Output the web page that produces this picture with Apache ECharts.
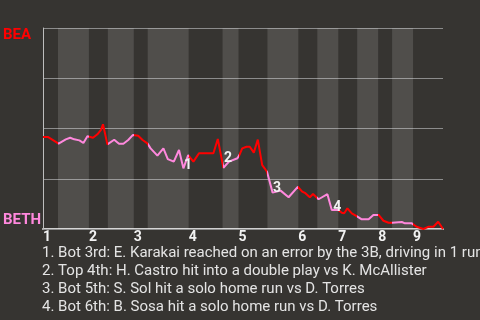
<!DOCTYPE html>
<html>
<head>
<meta charset="utf-8">
<script src="https://cdn.jsdelivr.net/npm/echarts@6/dist/echarts.min.js"></script>
<style>
html,body{margin:0;padding:0;background:#363431;}
#c{width:480px;height:320px;}
</style>
</head>
<body>
<div id="c"></div>
<script>
// Game progress (0-100) and BEA win probability (1 = BEA, 0 = BETH)
const progress = [0,1.2,3.9,5.7,6.8,7.8,9.1,10.1,11.1,11.3,12.5,13.6,14.5,15.0,16.1,17.8,19.0,20.1,21.3,22.5,
  23.8,24.9,26.1,26.9,28.6,30.1,31.2,32.7,34.0,35.1,36.3,37.6,39.0,42.6,43.7,45.1,46.5,48.6,49.1,49.8,
  50.9,51.7,52.7,53.7,54.8,55.4,56.0,57.4,59.4,61.4,63.7,64.8,65.6,66.7,67.5,68.9,71.1,72.2,73.8,74.7,
  75.3,76.1,77.2,78.3,79.7,81.4,82.6,83.9,85.1,86.4,87.3,89.7,90.5,92.2,93.4,95.1,96.3,97.6,98.8,100];
const winProb = [0.458,0.458,0.425,0.446,0.454,0.446,0.441,0.428,0.461,0.465,0.454,0.471,0.493,0.521,0.421,0.444,0.424,0.424,0.443,0.468,
  0.464,0.443,0.426,0.401,0.365,0.401,0.348,0.335,0.393,0.302,0.368,0.335,0.377,0.377,0.448,0.305,0.335,0.352,0.368,0.401,
  0.409,0.409,0.380,0.445,0.318,0.302,0.285,0.181,0.191,0.158,0.210,0.186,0.178,0.158,0.174,0.148,0.173,0.095,0.095,0.081,
  0.078,0.103,0.078,0.065,0.048,0.048,0.070,0.070,0.041,0.031,0.031,0.035,0.028,0.028,0.011,0,0.011,0.011,0.036,0];
const inningStart = [0,11.47,22.69,36.41,48.88,63.84,73.82,83.79,92.52];
const bottomStart = [3.74,16.21,26.18,44.89,56.11,68.58,78.55,87.28];
const inningLabels = ['1','2','3','4','5','6','7','8','9'];
const teamLabels = ['BEA','BETH'];
const eventIndex = [29,35,47,57];   // data index of annotated plays
const eventNames = ['1','2','3','4'];
const eventOffsets = [[0,-3],[0,-9],[0,-4],[1,-2]];
const eventTexts = [
  '1. Bot 3rd: E. Karakai reached on an error by the 3B, driving in 1 run',
  '2. Top 4th: H. Castro hit into a double play vs K. McAllister',
  '3. Bot 5th: S. Sol hit a solo home run vs D. Torres',
  '4. Bot 6th: B. Sosa hit a solo home run vs D. Torres'
];

const RED = '#ff0000', PINK = '#ff88dd';

const lineData = progress.map((x, i) => [x, winProb[i]]);
const marks = eventIndex.map((idx, k) => ({
  coord: [progress[idx], winProb[idx]],
  label: {
    show: true, formatter: eventNames[k], position: 'right', distance: 0,
    offset: eventOffsets[k], color: '#f2f2f2', fontSize: 14, fontWeight: 'bold',
    fontFamily: 'Roboto'
  }
}));

const bands = bottomStart.map((b, i) => [{xAxis: b}, {xAxis: inningStart[i + 1]}]);
const pieces = bottomStart.map((b, i) => ({gte: b, lt: inningStart[i + 1], color: PINK}));

const chart = echarts.init(document.getElementById('c'), null, {renderer: 'canvas'});
chart.setOption({
  backgroundColor: '#363431',
  animation: false,
  grid: {left: 42, top: 28, width: 401, height: 201},
  title: {
    text: eventTexts.join('\n'),
    left: 42, top: 244, padding: 0,
    textStyle: {color: '#e4e4e4', fontSize: 15, fontWeight: 'normal', lineHeight: 18, fontFamily: 'Roboto'}
  },
  xAxis: {
    type: 'value', min: 0, max: 100,
    axisLine: {show: true, lineStyle: {color: '#d0d0d0', width: 2}},
    axisTick: {show: false},
    splitLine: {show: false},
    axisLabel: {
      customValues: inningStart,
      formatter: (v) => inningLabels[inningStart.indexOf(v)] || '',
      align: 'left', margin: 1, color: '#f2f2f2', fontSize: 14, fontWeight: 'bold', fontFamily: 'Roboto'
    }
  },
  yAxis: {
    type: 'value', min: 0, max: 1, interval: 0.25, z: 1,
    axisLine: {show: true, lineStyle: {color: '#bdbdbd', width: 1}},
    axisTick: {show: false},
    splitLine: {show: true, lineStyle: {color: '#8c8c8c', width: 1}},
    axisLabel: {
      customValues: [0.043, 0.962],
      formatter: (v) => v > 0.5 ? '{a|' + teamLabels[0] + '}' : '{b|' + teamLabels[1] + '}',
      align: 'left', margin: 40,
      rich: {
        a: {color: RED, fontSize: 15, fontWeight: 'bold', fontFamily: 'Roboto'},
        b: {color: PINK, fontSize: 15, fontWeight: 'bold', fontFamily: 'Roboto'}
      }
    }
  },
  visualMap: {
    show: false, type: 'piecewise', dimension: 0, seriesIndex: 1,
    pieces: pieces, outOfRange: {color: RED}
  },
  series: [
    {
      type: 'line', data: [], z: 0, silent: true,
      markArea: {silent: true, itemStyle: {color: 'rgba(255,255,255,0.13)'}, data: bands}
    },
    {
      type: 'line', data: lineData, z: 3, showSymbol: false, symbol: 'none',
      lineStyle: {width: 2},
      markPoint: {
        silent: true, symbol: 'circle', symbolSize: 1,
        itemStyle: {color: 'rgba(0,0,0,0)'},
        data: marks
      }
    }
  ]
});
</script>
</body>
</html>
